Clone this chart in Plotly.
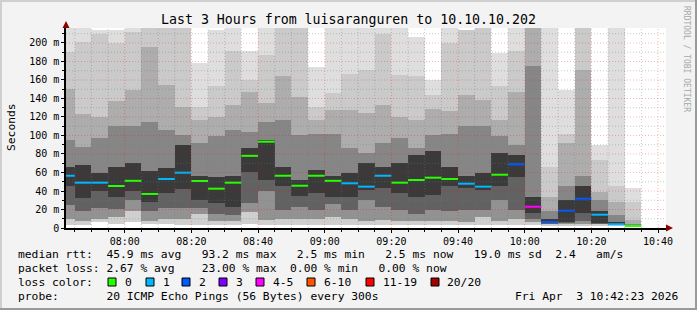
import plotly.graph_objects as go

W, H = 697, 310
L, R, T, B = 66, 31, 28, 82
PW, PH = W - L - R, H - T - B

# ---- data (ms), one entry per 5-minute interval (start time) ----
times = ["07:40", "07:45", "07:50", "07:55", "08:00", "08:05", "08:10", "08:15", "08:20", "08:25",
         "08:30", "08:35", "08:40", "08:45", "08:50", "08:55", "09:00", "09:05", "09:10", "09:15",
         "09:20", "09:25", "09:30", "09:35", "09:40", "09:45", "09:50", "09:55", "10:00", "10:05",
         "10:10", "10:15", "10:20", "10:25", "10:30"]
median = [56.5, 49, 49, 45.4, 51, 36.8, 53, 59.8, 50.8, 42.5,
          49, 78, 93.3, 56.5, 45.7, 56.5, 51, 48.3, 44.7, 56.5,
          49, 51.9, 54.4, 53, 47.9, 44.7, 57.6, 68.8, 23, 6.5,
          18.7, 31.7, 14.4, 4, 2.2]
lost_pings = [1, 1, 1, 0, 0, 0, 1, 1, 0, 0,
              0, 0, 0, 0, 0, 0, 0, 1, 1, 1,
              0, 0, 0, 0, 1, 1, 0, 2, 4.6, 2,
              2, 2, 1, 1, 0]
# smoke band boundaries (from highest to lowest ping)
ping_max = [230, 230, 214, 214, 230, 230, 230, 230, 178, 214,
            230, 191, 230, 230, 230, 174, 230, 230, 230, 230,
            230, 207, 160, 230, 214, 230, 189, 230, 230, 230,
            149, 230, 90, 230, 43]
band_a = [190, 201, 210, 200, 212, 230, 230, 230, 131, 153,
          191, 160, 187, 230, 230, 131, 146, 167, 171, 210,
          165, 164, 144, 200, 214, 230, 153, 191, 230, 66,
          102, 230, 73, 45, 28]
band_b = [150, 123, 120, 137, 149, 196, 155, 131, 117, 120,
          133, 147, 135, 164, 142, 117, 128, 128, 124, 133,
          120, 117, 129, 126, 144, 138, 117, 147, 230, 34,
          92, 171, 39, 28, 9]
band_c = [95, 88, 97, 110, 110, 115, 106, 100, 92, 99,
          106, 104, 115, 117, 100, 102, 102, 86, 81, 92,
          97, 86, 100, 102, 110, 110, 99, 90, 175, 18,
          45, 56, 30, 14, 4]
dark_hi = [66, 68, 60, 66, 70, 62, 65, 90, 56, 55,
           56, 86, 95, 66, 52, 63, 56, 59, 70, 66,
           70, 79, 83, 66, 56, 60, 81, 79, 34, 10,
           30, 45, 18, 6, 3]
dark_lo = [45, 32, 40, 34, 40, 28, 38, 42, 30, 27,
           23, 61, 52, 45, 35, 38, 34, 34, 41, 43,
           38, 34, 36, 45, 43, 41, 45, 55, 16, 5,
           6, 16, 5, 3, 2]
band_e = [25, 18, 22, 21, 30, 18, 22, 22, 22, 15,
          14, 27, 40, 20, 23, 20, 26, 20, 30, 23,
          20, 15, 20, 18, 20, 20, 30, 20, 10, 4,
          5, 8, 4, 2.8, 1.9]
band_f = [10, 8, 10, 12, 18, 8, 10, 10, 15, 8,
          8, 17, 9, 10, 10, 10, 12, 10, 8, 9,
          8, 8, 8, 8, 6, 12, 8, 10, 6, 3.5,
          4, 4, 3.5, 2.6, 1.8]
ping_min = [3, 3, 6, 4, 7, 4, 4, 3, 3, 3,
            3, 4, 3, 3, 3, 3, 3, 3, 3, 3,
            3, 3, 3, 3, 3, 3, 3, 3, 3, 3,
            2.5, 3, 3, 2.5, 1.7]

x_ticks = ["08:00", "08:20", "08:40", "09:00", "09:20", "09:40", "10:00", "10:20", "10:40"]
y_ticks = [0, 20, 40, 60, 80, 100, 120, 140, 160, 180, 200]

loss_labels = ["0", "1", "2", "3", "4-5", "6-10", "11-19", "20/20"]
loss_colors = ["#26ff00", "#00b8ff", "#0059ff", "#7e00ff", "#ff00ff", "#ff5500", "#ff0000", "#a00000"]

legend_line1 = "median rtt:  45.9 ms avg   93.2 ms max   2.5 ms min   2.5 ms now   19.0 ms sd  2.4   am/s"
legend_line2 = "packet loss: 2.67 % avg    23.00 % max  0.00 % min   0.00 % now"
legend_line3 = "loss color:"
legend_line4 = "probe:       20 ICMP Echo Pings (56 Bytes) every 300s"
stamp = "Fri Apr  3 10:42:23 2026"
title = "Last 3 Hours from luisaranguren to 10.10.10.202"


def tmin(s):
    h, m = s.split(":")
    return int(h) * 60 + int(m)


def bucket(l):
    if l <= 0:
        return 0
    if l <= 1:
        return 1
    if l <= 2:
        return 2
    if l <= 3:
        return 3
    if l <= 5:
        return 4
    if l <= 10:
        return 5
    if l < 20:
        return 6
    return 7


starts = [tmin(t) for t in times]
centers = [s + 2.5 for s in starts]
x0, x1 = tmin("07:42") + 23 / 60, tmin("10:42") + 23 / 60
y_max = 216.2

fig = go.Figure()

layers = [
    (band_a, ping_max, "#dedede"),
    (band_b, band_a, "#cacaca"),
    (band_c, band_b, "#adadad"),
    (dark_hi, band_c, "#868686"),
    (dark_lo, dark_hi, "#3a3a3a"),
    (band_e, dark_lo, "#626262"),
    (band_f, band_e, "#929292"),
    (ping_min, band_f, "#cfcfcf"),
]
for lo, hi, col in layers:
    fig.add_trace(go.Bar(
        x=centers, base=lo, y=[h - l for h, l in zip(hi, lo)], width=5,
        marker=dict(color=col, line=dict(width=0)), showlegend=False, hoverinfo="skip"))

# median segments coloured by loss
for k in range(len(loss_colors)):
    xs, ys = [], []
    for s, m, l in zip(starts, median, lost_pings):
        if bucket(l) == k:
            xs += [s, s + 5, None]
            ys += [m, m, None]
    if xs:
        fig.add_trace(go.Scatter(x=xs, y=ys, mode="lines",
                                 line=dict(color=loss_colors[k], width=2),
                                 showlegend=False, hoverinfo="skip"))

shapes = []
# grid lines drawn above the smoke
minor_col = "rgba(120,120,120,0.4)"
major_col = "rgba(255,0,0,0.3)"
xt_major = [tmin(t) for t in x_ticks]
m = starts[0]
while m <= x1:
    if m > x0:
        shapes.append(dict(type="line", xref="x", yref="paper", x0=m, x1=m, y0=0, y1=1,
                           line=dict(color=major_col if m in xt_major else minor_col, width=1, dash="1px,2px"),
                           layer="above"))
    m += 5
for v in range(10, 220, 10):
    if v < y_max:
        shapes.append(dict(type="line", xref="paper", yref="y", x0=0, x1=1, y0=v, y1=v,
                           line=dict(color=major_col if v % 20 == 0 else minor_col, width=1, dash="1px,2px"),
                           layer="above"))


def px(x):
    return (x - L) / PW


def py(y):
    return (H - B - y) / PH


# axis arrows
shapes.append(dict(type="path", xref="paper", yref="paper",
                   path=f"M {px(62.5)},{py(28)} L {px(69.5)},{py(28)} L {px(66)},{py(21)} Z",
                   fillcolor="#8b0000", line=dict(width=0), layer="above"))
shapes.append(dict(type="path", xref="paper", yref="paper",
                   path=f"M {px(666)},{py(224.5)} L {px(666)},{py(231.5)} L {px(673)},{py(228)} Z",
                   fillcolor="#8b0000", line=dict(width=0), layer="above"))
# figure frame
shapes.append(dict(type="line", xref="paper", yref="paper", x0=px(0), x1=px(W), y0=py(1), y1=py(1),
                   line=dict(color="#cfcfcf", width=2)))
shapes.append(dict(type="line", xref="paper", yref="paper", x0=px(1), x1=px(1), y0=py(0), y1=py(H),
                   line=dict(color="#cfcfcf", width=2)))
shapes.append(dict(type="line", xref="paper", yref="paper", x0=px(0), x1=px(W), y0=py(H - 1), y1=py(H - 1),
                   line=dict(color="#9a9a9a", width=2)))
shapes.append(dict(type="line", xref="paper", yref="paper", x0=px(W - 1), x1=px(W - 1), y0=py(0), y1=py(H),
                   line=dict(color="#9a9a9a", width=2)))

MONO = "DejaVu Sans Mono"
nb = lambda s: s.replace(" ", "\u00a0")
annotations = []


def text(s, x, y, size, xanchor="left", color="#000", angle=0):
    annotations.append(dict(text=nb(s), x=px(x), y=py(y), xref="paper", yref="paper",
                            xanchor=xanchor, yanchor="middle", showarrow=False, textangle=angle,
                            font=dict(family=MONO, size=size, color=color)))


LF = 11.3
text(title, 348, 19, 13.25, xanchor="center")
text("Seconds", 11, 127, 11.3, xanchor="center", angle=-90)
text("RRDTOOL / TOBI OETIKER", 687, 59, 8, xanchor="center", color="#a8a8a8", angle=90)
text(legend_line1, 16, 254.5, LF)
text(legend_line2, 16, 268.5, LF)
text(legend_line3, 16, 282.5, LF)
text(legend_line4, 16, 296.5, LF)
text(stamp, 680, 296.5, LF, xanchor="right")

box_x = [108, 146, 182, 219, 256, 307, 366, 431]
for bx, lab, col in zip(box_x, loss_labels, loss_colors):
    shapes.append(dict(type="rect", xref="paper", yref="paper", x0=px(bx), x1=px(bx + 8),
                       y0=py(278), y1=py(286), fillcolor=col, line=dict(color="#000", width=1)))
    text(lab, bx + 14.5, 282.5, LF)

fig.update_layout(
    width=W, height=H, margin=dict(l=L, r=R, t=T, b=B, pad=0),
    paper_bgcolor="#f3f3f3", plot_bgcolor="#ffffff",
    barmode="overlay", bargap=0, showlegend=False,
    shapes=shapes, annotations=annotations,
    xaxis=dict(range=[x0, x1], tickmode="array", tickvals=xt_major, ticktext=x_ticks,
               showgrid=False, zeroline=False, showline=True, linecolor="#000", linewidth=1.5,
               ticks="outside", ticklen=3, tickcolor="#000",
               minor=dict(tickmode="linear", tick0=starts[0], dtick=5, ticklen=2, tickcolor="#000", showgrid=False),
               tickfont=dict(family=MONO, size=10, color="#000"), fixedrange=True),
    yaxis=dict(range=[0, y_max], tickmode="array", tickvals=y_ticks,
               ticktext=["0" if v == 0 else nb(f"{v} m") for v in y_ticks],
               showgrid=False, zeroline=False, showline=True, linecolor="#000", linewidth=1.5,
               ticks="outside", ticklen=3, tickcolor="#000",
               minor=dict(tickmode="linear", tick0=0, dtick=10, ticklen=2, tickcolor="#000", showgrid=False),
               tickfont=dict(family=MONO, size=10, color="#000"), fixedrange=True),
)

fig.write_html("out.html", config={"displayModeBar": False})
